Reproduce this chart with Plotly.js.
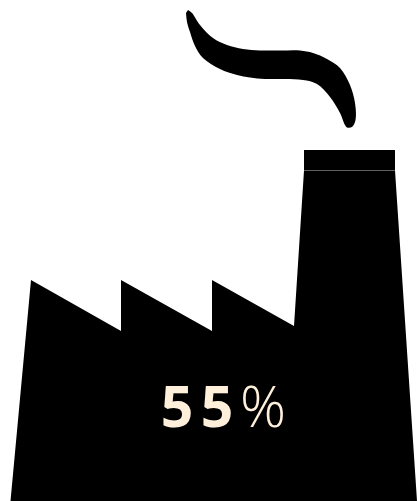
<!DOCTYPE html>
<html><head><meta charset="utf-8">
<script src="https://cdn.plot.ly/plotly-3.0.1.min.js"></script>
<style>html,body{margin:0;padding:0;background:#fff}</style>
</head><body><div id="c" style="width:417px;height:501px"></div>
<script>
const factoryX=[10.5,31,121,121,212,212,294,304,395,417];
const factoryY=[501,280,331,280,331,280,326,170.5,170.5,501];
const capX=[304,395,395,304];
const capY=[150,150,170.2,170.2];
const smokeX=[188,192,200,213,227,243,260,280,300,313,327,340,350,355,355.5,352,347,345,340,330,317,303,285,265,250,237,220,203,195,190,187,186];
const smokeY=[10,13,25,38,45,49,50.5,50.5,50.5,53,59,68,85,103,120,127,127.5,125,113,97,84,80,79,79,77.5,75,69,58,46,32,22,13];
const digitX=[177,217];
const digitY=[413,413];
const digits=['5','5'];
const percentX=[263];
const percentY=[413];
const percent=['%'];
const shape=(x,y)=>({x:x,y:y,type:'scatter',mode:'lines',fill:'toself',fillcolor:'#000',line:{width:0,color:'#000'},hoverinfo:'skip'});
const txt=(x,y,t,w)=>({x:x,y:y,text:t,type:'scatter',mode:'text',textposition:'middle center',
 textfont:{family:'"Open Sans"',size:57,color:'#FFF0DC',weight:w},hoverinfo:'skip'});
const smoke=shape(smokeX,smokeY);
smoke.line={width:0,color:'#000',shape:'spline',smoothing:1};
Plotly.newPlot('c',[shape(factoryX,factoryY),shape(capX,capY),smoke,
 txt(digitX,digitY,digits,700),txt(percentX,percentY,percent,300)],
{width:417,height:501,margin:{l:0,r:0,t:0,b:0},paper_bgcolor:'#fff',plot_bgcolor:'#fff',showlegend:false,
 xaxis:{range:[0,417],visible:false,fixedrange:true},
 yaxis:{range:[501,0],visible:false,fixedrange:true}},
{displayModeBar:false,staticPlot:true});
</script></body></html>
